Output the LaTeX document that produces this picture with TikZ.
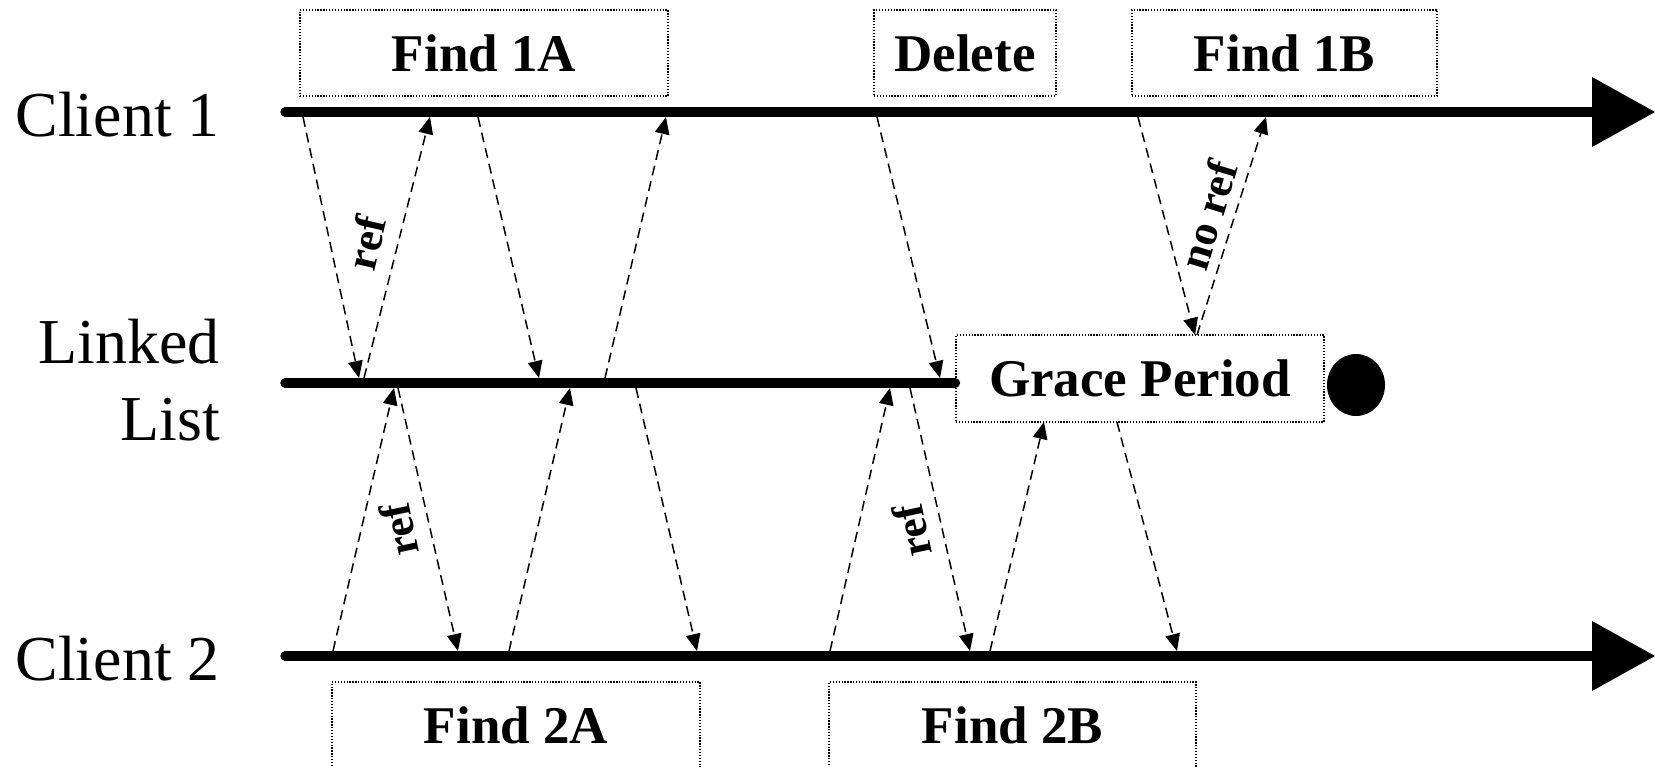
\documentclass[tikz,border=0pt]{standalone}
\usepackage{fontspec}
\setmainfont{Liberation Serif}
\usetikzlibrary{arrows.meta,shapes.geometric}
\begin{document}
\begin{tikzpicture}[x=1pt,y=-1pt,
  timeline/.style={line width=9.5pt, line cap=round},
  bighead/.style={-{Triangle[length=63pt,width=70pt,line width=0pt]}},
  msg/.style={line width=1.5pt, dash pattern=on 10pt off 6pt,
    -{Triangle[length=17pt,width=15pt,line width=0pt]}},
  opbox/.style={draw, line width=1.3pt, dash pattern=on 1.3pt off 1.6pt,
    fill=white, inner sep=0pt, font=\fontsize{53}{60}\selectfont\bfseries},
  lane/.style={inner sep=0pt, anchor=base east, font=\fontsize{64}{72}\selectfont},
  tag/.style={inner sep=0pt, font=\fontsize{44}{50}\selectfont\bfseries}]

\useasboundingbox (0,0) rectangle (1655,766);

% lane labels
\node[lane] (c1lab) at (220,136) {Client 1};
\node[lane] (lllab1) at (220,363) {Linked};
\node[lane] (lllab2) at (220,440) {List};
\node[lane] (c2lab) at (220,680) {Client 2};

% operation boxes
\node[opbox, minimum width=368pt, minimum height=86pt] (f1a) at (484,53) {Find 1A};
\node[opbox, minimum width=182pt, minimum height=86pt] (del) at (965,53) {Delete};
\node[opbox, minimum width=305pt, minimum height=86pt] (f1b) at (1284.5,53) {Find 1B};
\node[opbox, minimum width=368pt, minimum height=87pt] (gp) at (1140,378.5) {Grace Period};
\node[opbox, minimum width=368pt, minimum height=86pt] (f2a) at (516,725) {Find 2A};
\node[opbox, minimum width=367pt, minimum height=86pt] (f2b) at (1012.5,725) {Find 2B};

% end of grace period
\node[ellipse, fill=black, minimum width=58pt, minimum height=62pt, inner sep=0pt] (dot) at (1356,385) {};

% timelines
\coordinate (c1s) at (285,112);
\coordinate (c1e) at (1655,112);
\coordinate (lls) at (285,383);
\coordinate (c2s) at (285,656);
\coordinate (c2e) at (1655,656);
\draw[timeline, bighead] (c1s) -- (c1e);
\draw[timeline] (lls) -- (gp.west |- lls);
\draw[timeline, bighead] (c2s) -- (c2e);

% message end points
\coordinate (a1s) at (303,117);  \coordinate (a1e) at (359,378);
\coordinate (a2s) at (364,378);  \coordinate (a2e) at (430,117);
\coordinate (a3s) at (478,117);  \coordinate (a3e) at (539,378);
\coordinate (a4s) at (605,378);  \coordinate (a4e) at (666,117);
\coordinate (a5s) at (877,117);  \coordinate (a5e) at (940,378);
\coordinate (a6s) at (1138,117); \coordinate (a6e) at (1195,335);
\coordinate (a7s) at (1197,335); \coordinate (a7e) at (1266,117);
\coordinate (b1s) at (333,651);  \coordinate (b1e) at (394,388);
\coordinate (b2s) at (398,388);  \coordinate (b2e) at (458,651);
\coordinate (b3s) at (509,651);  \coordinate (b3e) at (570,388);
\coordinate (b4s) at (636,388);  \coordinate (b4e) at (697,651);
\coordinate (b5s) at (830,651);  \coordinate (b5e) at (890,388);
\coordinate (b6s) at (910,388);  \coordinate (b6e) at (970,651);
\coordinate (b7s) at (990,651);  \coordinate (b7e) at (1044,422);
\coordinate (b8s) at (1117,422); \coordinate (b8e) at (1177,651);

\foreach \m in {a1,a2,a3,a4,a5,a6,a7,b1,b2,b3,b4,b5,b6,b7,b8}
  \draw[msg] (\m s) -- (\m e);

% message labels
\node[tag, rotate=77] (r1) at (366,243) {ref};
\node[tag, rotate=102] (r2) at (399,530) {ref};
\node[tag, rotate=102] (r3) at (912,531) {ref};
\node[tag, rotate=73] (r4) at (1208,215) {no ref};
\end{tikzpicture}
\end{document}
